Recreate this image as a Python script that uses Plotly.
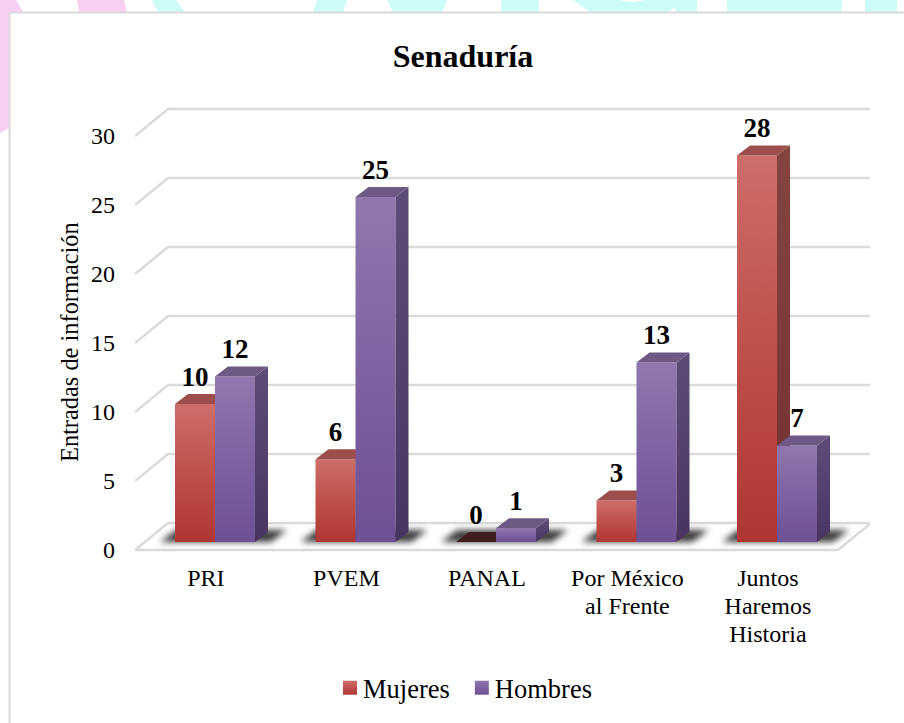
import plotly.graph_objects as go

categories = ["PRI", "PVEM", "PANAL", "Por México<br>al Frente", "Juntos<br>Haremos<br>Historia"]
mujeres = [10, 6, 0, 3, 28]
hombres = [12, 25, 1, 13, 7]
y_ticks = [0, 5, 10, 15, 20, 25, 30]
title_text = "Senaduría"
y_title = "Entradas de información"

W, H = 904, 723
FONT = "Liberation Serif"
# plot geometry, in page pixels
PX_L, PX_R, PX_T, PX_B = 135, 870, 100, 560
CAT_STEP = 140.5
Y_UNIT = 13.8
FRONT_X0, FRONT_Y0 = 205.9, 550      # category 0 / value 0 on the front of the floor
BAR_X0, BAR_Y0 = 215, 542            # category 0 / value 0 at the foot of the bars
BAR_W = 40 / CAT_STEP
DX = 13 / CAT_STEP
DY = 10 / Y_UNIT
WALL_DX = 33 / CAT_STEP
WALL_DY = 27 / Y_UNIT
FLOOR_RIGHT = (838 - FRONT_X0) / CAT_STEP
LEFT_EDGE = (PX_L - FRONT_X0) / CAT_STEP

RED_TOP, RED_SIDE, RED_FRONT = "#9B4E4B", "#7D3B39", "#C0504D"
PUR_TOP, PUR_SIDE, PUR_FRONT = "#6D5983", "#54416E", "#8064A2"
ZERO_TOP = "#3E1E1E"
GRID = "#DADADA"
SHADOW = "#3C3C3C"

fig = go.Figure()


def ranges(x0, y0):
    return (
        [(PX_L - x0) / CAT_STEP, (PX_R - x0) / CAT_STEP],
        [(y0 - PX_B) / Y_UNIT, (y0 - PX_T) / Y_UNIT],
    )


# ---- wall and floor lines, from the y ticks
for v in y_ticks:
    lx = [LEFT_EDGE, LEFT_EDGE + WALL_DX, (PX_R - FRONT_X0) / CAT_STEP]
    ly = [v, v + WALL_DY, v + WALL_DY]
    if v == 0:
        lx = [FLOOR_RIGHT + WALL_DX, FLOOR_RIGHT, LEFT_EDGE] + lx[1:]
        ly = [WALL_DY, 0, 0] + ly[1:]
    fig.add_trace(go.Scatter(x=lx, y=ly, mode="lines", line=dict(color=GRID, width=2.5),
                             hoverinfo="skip", showlegend=False, xaxis="x", yaxis="y"))

# ---- floor shadows, under the bars (first subplot is drawn first)
shift_x = (BAR_X0 - FRONT_X0) / CAT_STEP
shift_y = (FRONT_Y0 - BAR_Y0) / Y_UNIT
for i in range(len(categories)):
    sx = [i + shift_x + a / CAT_STEP for a in (-55, -39, 72, 56)]
    sy = [shift_y + a / Y_UNIT for a in (0, 12, 12, 0)]
    fig.add_trace(go.Scatter(x=sx, y=sy, mode="none", fill="toself", fillcolor=SHADOW,
                             hoverinfo="skip", showlegend=False, xaxis="x", yaxis="y"))


def add_series(name, values, colors, left, xa, ya):
    top, side, front = colors
    fig.add_trace(go.Bar(
        x=list(range(len(values))), y=values, name=name, width=BAR_W,
        offset=-BAR_W if left else 0, marker=dict(color=front, line=dict(width=0)),
        hoverinfo="x+y", xaxis=xa, yaxis=ya, legendgroup=name,
    ))
    for i, v in enumerate(values):
        x0 = i - BAR_W if left else i
        x1 = x0 + BAR_W
        fig.add_trace(go.Scatter(
            x=[x1, x1 + DX, x1 + DX, x1], y=[0, DY, v + DY, v], mode="none", fill="toself",
            fillcolor=side, hoverinfo="skip", showlegend=False, xaxis=xa, yaxis=ya))
        fig.add_trace(go.Scatter(
            x=[x0, x1, x1 + DX, x0 + DX], y=[v, v, v + DY, v + DY], mode="none", fill="toself",
            fillcolor=ZERO_TOP if v == 0 else top, hoverinfo="skip", showlegend=False,
            xaxis=xa, yaxis=ya))


add_series("Mujeres", mujeres, (RED_TOP, RED_SIDE, RED_FRONT), True, "x2", "y2")
add_series("Hombres", hombres, (PUR_TOP, PUR_SIDE, PUR_FRONT), False, "x3", "y3")

# ---- value labels
label_lift = DY + 15 / Y_UNIT
lab_x, lab_y, lab_t = [], [], []
for i, (m, h) in enumerate(zip(mujeres, hombres)):
    lab_x += [i - BAR_W / 2, i + BAR_W / 2]
    lab_y += [m + label_lift, h + label_lift]
    lab_t += [str(m), str(h)]
fig.add_trace(go.Scatter(x=lab_x, y=lab_y, text=lab_t, mode="text", textposition="middle center",
                         textfont=dict(family=FONT, size=27, color="#000000", weight="bold"),
                         hoverinfo="skip", showlegend=False, xaxis="x3", yaxis="y3"))


# ---- page backdrop (pixels turned into paper fractions)
def poly(points, color):
    d = "M" + "L".join(f"{x / W:.5f},{1 - y / H:.5f}" for x, y in points) + "Z"
    return dict(type="path", path=d, xref="paper", yref="paper", fillcolor=color,
                line=dict(width=0), layer="below")


PINK, CYAN = "#F7CFF3", "#CCFCF8"
shapes = [
    poly([(0, 0), (16, 0), (23, 12), (23, 14), (9, 128), (0, 133)], PINK),
    poly([(77, 0), (124, 0), (127, 12), (79, 12)], PINK),
    poly([(152, 0), (176, 0), (185, 12), (158, 12)], CYAN),
    poly([(317, 0), (347, 0), (343, 12), (313, 12)], CYAN),
    poly([(387, 0), (447, 0), (442, 12), (393, 12)], CYAN),
    poly([(501, 0), (539, 0), (539, 12), (501, 12)], CYAN),
    poly([(573, 0), (618, 0), (632, 2), (647, 0), (697, 0), (697, 12), (676, 12), (675, 7), (668, 12), (590, 12)], CYAN),
    poly([(727, 0), (842, 0), (842, 12), (727, 12)], CYAN),
    poly([(865, 0), (897, 0), (897, 12), (865, 12)], CYAN),
    dict(type="rect", xref="paper", yref="paper", x0=9.5 / W, x1=1.02, y0=-0.02, y1=1 - 12.5 / H,
         fillcolor="#FFFFFF", line=dict(color="#D9D9D9", width=2), layer="below"),
]

rx, ry = ranges(FRONT_X0, FRONT_Y0)
rx2, ry2 = ranges(BAR_X0, BAR_Y0)
dom_x = [PX_L / W, PX_R / W]
dom_y = [1 - PX_B / H, 1 - PX_T / H]
hidden = dict(visible=False, fixedrange=True)

fig.update_layout(
    width=W, height=H, margin=dict(l=0, r=0, t=0, b=0, autoexpand=False),
    paper_bgcolor="#FFFFFF", plot_bgcolor="rgba(0,0,0,0)",
    font=dict(family=FONT, size=24, color="#000000"),
    barmode="overlay", shapes=shapes, hovermode="closest",
    title=dict(text=f"<b>{title_text}</b>", x=463 / W, xanchor="center", y=1 - 55.5 / H, yanchor="middle",
               font=dict(family=FONT, size=32, color="#000000")),
    xaxis=dict(domain=dom_x, range=rx, tickmode="array", tickvals=list(range(len(categories))),
               ticktext=categories, showgrid=False, zeroline=False, showline=False, ticks="",
               ticklabelstandoff=1, tickangle=0, tickfont=dict(family=FONT, size=24), fixedrange=True),
    yaxis=dict(domain=dom_y, range=ry, tickmode="array", tickvals=y_ticks, showgrid=False, zeroline=False,
               showline=False, ticks="", ticklabelstandoff=19, tickfont=dict(family=FONT, size=24),
               fixedrange=True),
    xaxis2=dict(overlaying="x", range=rx2, **hidden),
    yaxis2=dict(overlaying="y", range=ry2, **hidden),
    xaxis3=dict(overlaying="x", range=rx2, **hidden),
    yaxis3=dict(overlaying="y", range=ry2, **hidden),
    legend=dict(orientation="h", x=467 / W, xanchor="center", y=1 - 688 / H, yanchor="middle",
                font=dict(family=FONT, size=26.5), bgcolor="rgba(0,0,0,0)", traceorder="normal"),
    annotations=[dict(text=y_title, textangle=-90, x=69 / W, y=1 - 342 / H, xref="paper", yref="paper",
                      showarrow=False, xanchor="center", yanchor="middle",
                      font=dict(family=FONT, size=24.4, color="#000000"))],
)

post = """
document.body.style.margin = '0';
document.documentElement.style.overflow = 'hidden';
function hexrgb(h){return 'rgb('+parseInt(h.slice(1,3),16)+', '+parseInt(h.slice(3,5),16)+', '+parseInt(h.slice(5,7),16)+')';}
var GR = {
  '#C0504D': ['#CC6E6A','#C0504A','#AE3733'],
  '#8064A2': ['#9078AE','#7F62A2','#6E5094'],
  '#7D3B39': ['#84443F','#7D3B39','#6E2C2A'],
  '#54416E': ['#5E4C78','#54416E','#483460']
};
var done=false;
function style(){
  var gd = document.querySelector('.plotly-graph-div');
  var svg = gd.querySelector('svg.main-svg');
  if(!document.getElementById('gr0')){
    var ns='http://www.w3.org/2000/svg', defs=document.createElementNS(ns,'defs'), n=0;
    Object.keys(GR).forEach(function(k){
      var g=document.createElementNS(ns,'linearGradient');
      g.setAttribute('id','gr'+n); g.setAttribute('x1','0'); g.setAttribute('y1','0'); g.setAttribute('x2','0'); g.setAttribute('y2','1');
      GR[k].forEach(function(c,i){var s=document.createElementNS(ns,'stop'); s.setAttribute('offset',(i/2)); s.setAttribute('stop-color',c); g.appendChild(s);});
      defs.appendChild(g); GR[k]='gr'+n; n++;
    });
    svg.appendChild(defs);
  }
  var map={}; Object.keys(GR).forEach(function(k){map[hexrgb(k)]=GR[k];});
  gd.querySelectorAll('.barlayer path, .legendpoints path, .scatterlayer .js-fill').forEach(function(p){
    var f=p.style.fill;
    if(map[f]) p.style.fill='url(#'+map[f]+')';
    else if(f===hexrgb('#3C3C3C')) p.style.filter='blur(3px)';
  });
  gd.querySelectorAll('.xtick text').forEach(function(t){
    t.querySelectorAll('tspan.line').forEach(function(s,i){s.setAttribute('dy',(i*1.16)+'em');});
  });
  if(!done){
    done=true;
    gd.querySelectorAll('.legend .legendpoints path').forEach(function(p){p.setAttribute('d','M7,7H-7V-7H7Z');});
    gd.querySelectorAll('.legend .legendtext').forEach(function(t){t.setAttribute('x',parseFloat(t.getAttribute('x'))-7);});
  }
}
style(); setTimeout(style,50);
"""
fig.write_html("out.html", post_script=post, config={"displayModeBar": False})
